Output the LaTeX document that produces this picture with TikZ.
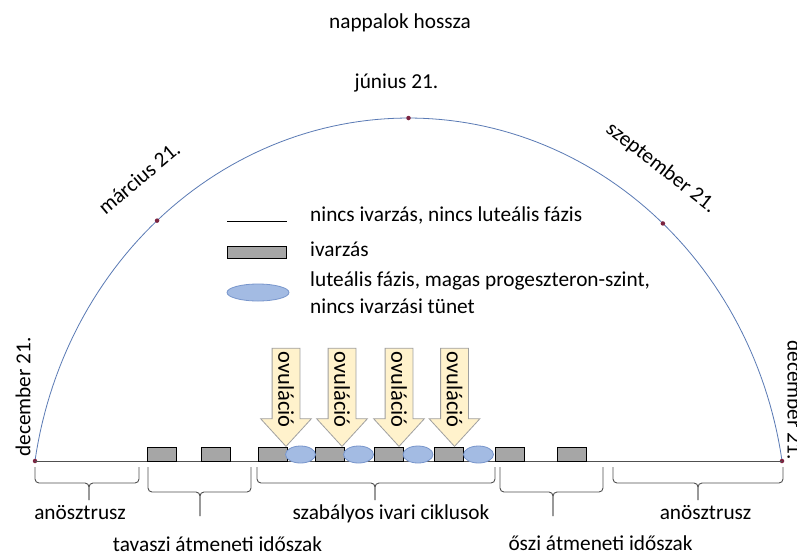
\documentclass[tikz,border=0pt]{standalone}
\usepackage{fontspec}
\setmainfont{Carlito}
\usetikzlibrary{shapes.geometric,shapes.arrows}
\definecolor{arccol}{HTML}{5A7AB5}
\definecolor{dotcol}{HTML}{7B2340}
\definecolor{ivarfill}{HTML}{A6A6A6}
\definecolor{lutfill}{HTML}{A3BBE3}
\definecolor{lutdraw}{HTML}{7896CC}
\definecolor{arrfill}{HTML}{FFF2CC}
\definecolor{arrdraw}{HTML}{A0A0A0}
\definecolor{linecol}{HTML}{505050}
\newcommand\myBrace[6]{% x1, x2, xm, top, h, tip
  \draw[bracestyle] (#1,#4) -- (#1,#5) -- (#3,#5) -- (#3,#6);
  \draw[bracestyle] (#2,#4) -- (#2,#5) -- (#3,#5) -- (#3,#6);}
\begin{document}
\begin{tikzpicture}[x=1pt,y=-1pt,
  txt/.style={font=\fontsize{21.3}{26.5}\selectfont, inner sep=0pt},
  ivar/.style={rectangle, draw=black, line width=0.8pt, fill=ivarfill, minimum width=29pt, minimum height=14pt, inner sep=0pt},
  lut/.style={ellipse, draw=lutdraw, line width=0.8pt, fill=lutfill, minimum width=30pt, minimum height=17pt, inner sep=0pt},
  ovarrow/.style={single arrow, rotate=-90, draw=arrdraw, line width=0.8pt, fill=arrfill, minimum height=92pt, single arrow head extend=11.5pt, single arrow tip angle=85, text height=15.5pt, text depth=0pt, inner ysep=5.75pt, inner xsep=3pt, font=\fontsize{22.5}{26}\selectfont, anchor=tip},
  dot/.style={circle, fill=dotcol, inner sep=0pt, minimum size=4.5pt},
  bracestyle/.style={draw=linecol, line width=0.9pt, rounded corners=4pt},
]
\clip (0,0) rectangle (797,555);
\fill[white] (0,0) rectangle (797,555);

% day-length arc
\coordinate (decL) at (35,461);
\coordinate (decR) at (782,461);
\draw[arccol, line width=0.8pt] plot[domain=188.9:351.1, samples=120, variable=\t] ({408.5+378*cos(\t)},{523+405*sin(\t)});
\node[dot] (dotL) at (decL) {};
\node[dot] (dotR) at (decR) {};
\node[dot] (dotJun) at (408.5,118) {};
\node[dot] (dotMar) at ({408.5+378*cos(228.3)},{523+405*sin(228.3)}) {};
\node[dot] (dotSep) at ({408.5+378*cos(312.3)},{523+405*sin(312.3)}) {};

% top labels
\node[txt, anchor=base] (title) at (400,28.3) {nappalok hossza};
\node[txt, anchor=base] (junL) at (396.5,88) {június 21.};
\node[txt, rotate=40] (marL) at (139,178) {március 21.};
\node[txt, rotate=-38] (sepL) at (661,168) {szeptember 21.};
\node[txt, rotate=90] (decLL) at (23,397) {december 21.};
\node[txt, rotate=-90] (decRL) at (795,400) {december 21.};

% legend
\coordinate (lega) at (227,221);
\coordinate (legb) at (287,221);
\draw[black, line width=0.8pt] (lega) -- (legb);
\node[ivar, minimum width=59pt, minimum height=12pt] (legRect) at (256.5,252) {};
\node[lut, minimum width=62pt, minimum height=17pt] (legEll) at (258,292.5) {};
\node[txt, anchor=base west] (leg1) at (310,221) {nincs ivarzás, nincs luteális fázis};
\node[txt, anchor=base west] (leg2) at (310,256.5) {ivarzás};
\node[txt, anchor=base west] (leg3) at (310,286.5) {luteális fázis, magas progeszteron-szint,};
\node[txt, anchor=base west] (leg4) at (310,313) {nincs ivarzási tünet};

% time axis
\draw[linecol, line width=0.9pt] (decL) -- (decR);
\node[ivar] (r1) at (162,454) {};
\node[ivar] (r2) at (215.5,454) {};
\node[ivar] (r3) at (272.5,454) {};
\node[ivar] (r4) at (330,454) {};
\node[ivar] (r5) at (388.5,454) {};
\node[ivar] (r6) at (448.5,454) {};
\node[ivar] (r7) at (509.5,454) {};
\node[ivar] (r8) at (572,454) {};
\node[lut] (e1) at (300.5,454.5) {};
\node[lut] (e2) at (358.5,454.5) {};
\node[lut] (e3) at (418,454.5) {};
\node[lut] (e4) at (478.5,454.5) {};

% ovulation arrows
\node[ovarrow] (a1) at (286,447) {ovuláció};
\node[ovarrow] (a2) at (342,447) {ovuláció};
\node[ovarrow] (a3) at (399,447) {ovuláció};
\node[ovarrow] (a4) at (454.5,447) {ovuláció};

% braces
\myBrace{35}{139}{89}{467}{483}{500}
\myBrace{148}{251}{200}{467}{492}{516}
\myBrace{257}{495}{375}{467}{483}{500}
\myBrace{500}{603}{553}{467}{492}{516}
\myBrace{613}{783}{698}{467}{483}{500}

% period labels
\node[txt, anchor=base] (anL) at (80,519.5) {anösztrusz};
\node[txt, anchor=base] (tav) at (217.5,551) {tavaszi átmeneti időszak};
\node[txt, anchor=base] (szab) at (391,519.5) {szabályos ivari ciklusok};
\node[txt, anchor=base] (osz) at (600.5,550) {őszi átmeneti időszak};
\node[txt, anchor=base] (anR) at (705.5,519.5) {anösztrusz};
\end{tikzpicture}
\end{document}
